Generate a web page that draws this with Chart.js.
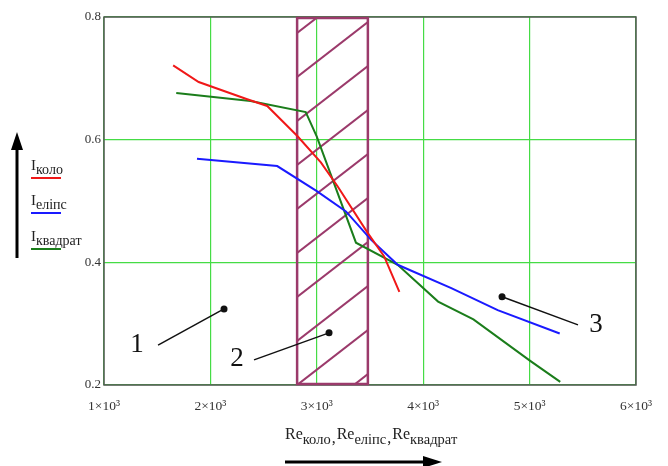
<!DOCTYPE html>
<html lang="uk">
<head>
<meta charset="UTF-8">
<title>I = f(Re)</title>
<script src="https://cdn.jsdelivr.net/npm/chart.js"></script>
<style>
  html, body { margin: 0; padding: 0; background: #fff; }
</style>
</head>
<body>
<canvas id="chart" width="668" height="466"></canvas>
<script>
// curves: коло (circle), еліпс (ellipse), квадрат (square)
const reKolo = [1650, 1890, 2346, 2534, 2817, 3038, 3195, 3478, 3632, 3776];
const iKolo = [0.721, 0.694, 0.666, 0.655, 0.606, 0.563, 0.524, 0.448, 0.41, 0.352];

const reElips = [1874, 2628, 3000, 3274, 3509, 3760, 4264, 4700, 5283];
const iElips = [0.569, 0.557, 0.516, 0.483, 0.437, 0.396, 0.358, 0.322, 0.284];

const reKvadrat = [1679, 2377, 2896, 3000, 3368, 3760, 4140, 4472, 5009, 5288];
const iKvadrat = [0.676, 0.663, 0.645, 0.605, 0.432, 0.396, 0.336, 0.307, 0.239, 0.205];

const xTickLabels = ['1×10³', '2×10³', '3×10³', '4×10³', '5×10³', '6×10³'];
const yTickLabels = ['0.2', '0.4', '0.6', '0.8'];

// hatched transition zone (Re range)
const zoneRe = [2815, 3480];

// numbered callouts: dot, start of leader line, number
const calloutText = ['1', '2', '3'];
const calloutDotRe = [2128, 3115, 4741];
const calloutDotI = [0.324, 0.285, 0.344];
const calloutLineRe = [1508, 2410, 5455];
const calloutLineI = [0.265, 0.241, 0.298];
const calloutTextRe = [1310, 2250, 5624];
const calloutTextI = [0.265, 0.242, 0.298];

const seriesNames = ['коло', 'еліпс', 'квадрат'];
const seriesColors = ['#f01818', '#1a1aff', '#1b7d1b'];

function toPoints(xs, ys) {
    return xs.map((x, i) => ({ x: x, y: ys[i] }));
}

const SERIF = '"Liberation Serif", "DejaVu Serif", serif';

// draw main text with a subscript, returns advance width
function drawSub(ctx, x, y, main, sub, mainSize, subSize, drop) {
    ctx.font = mainSize + 'px ' + SERIF;
    ctx.fillText(main, x, y);
    const w1 = ctx.measureText(main).width;
    ctx.font = subSize + 'px ' + SERIF;
    ctx.fillText(sub, x + w1, y + drop);
    return w1 + ctx.measureText(sub).width;
}

const zonePlugin = {
    id: 'zone',
    beforeDatasetsDraw(chart) {
        const ctx = chart.ctx;
        const area = chart.chartArea;
        const xs = chart.scales.x;
        const L = xs.getPixelForValue(zoneRe[0]);
        const R = xs.getPixelForValue(zoneRe[1]);
        ctx.save();
        // hatch
        ctx.beginPath();
        ctx.rect(L, area.top, R - L, area.bottom - area.top);
        ctx.clip();
        ctx.strokeStyle = '#9b3a6b';
        ctx.lineWidth = 2;
        const slope = 0.775, gap = 44;
        for (let k = -2; k < 14; k++) {
            const yL = area.bottom - k * gap;
            ctx.beginPath();
            ctx.moveTo(L, yL);
            ctx.lineTo(R, yL - slope * (R - L));
            ctx.stroke();
        }
        ctx.restore();
        ctx.save();
        // plot frame
        ctx.strokeStyle = '#555';
        ctx.lineWidth = 1.5;
        ctx.strokeRect(area.left, area.top, area.right - area.left, area.bottom - area.top);
        ctx.strokeStyle = '#9b3a6b';
        ctx.lineWidth = 2.5;
        ctx.strokeRect(L, area.top + 1, R - L, area.bottom - area.top - 2);
        ctx.restore();
    }
};

const decorPlugin = {
    id: 'decor',
    afterDraw(chart) {
        const ctx = chart.ctx;
        const xs = chart.scales.x, ys = chart.scales.y;
        ctx.save();

        // callouts
        ctx.strokeStyle = '#111';
        ctx.fillStyle = '#111';
        ctx.lineWidth = 1.5;
        calloutText.forEach((t, i) => {
            const dx = xs.getPixelForValue(calloutDotRe[i]);
            const dy = ys.getPixelForValue(calloutDotI[i]);
            ctx.beginPath();
            ctx.moveTo(xs.getPixelForValue(calloutLineRe[i]), ys.getPixelForValue(calloutLineI[i]));
            ctx.lineTo(dx, dy);
            ctx.stroke();
            ctx.beginPath();
            ctx.arc(dx, dy, 3.5, 0, Math.PI * 2);
            ctx.fill();
            ctx.font = '27px ' + SERIF;
            ctx.textAlign = 'center';
            ctx.textBaseline = 'middle';
            ctx.fillText(t, xs.getPixelForValue(calloutTextRe[i]), ys.getPixelForValue(calloutTextI[i]));
        });

        // vertical arrow on the left
        ctx.strokeStyle = '#000';
        ctx.fillStyle = '#000';
        ctx.lineWidth = 3;
        ctx.beginPath();
        ctx.moveTo(17, 258);
        ctx.lineTo(17, 146);
        ctx.stroke();
        ctx.beginPath();
        ctx.moveTo(17, 132);
        ctx.lineTo(11, 150);
        ctx.lineTo(23, 150);
        ctx.closePath();
        ctx.fill();

        // horizontal arrow under the axis title
        ctx.beginPath();
        ctx.moveTo(285, 462);
        ctx.lineTo(426, 462);
        ctx.stroke();
        ctx.beginPath();
        ctx.moveTo(442, 462);
        ctx.lineTo(423, 456);
        ctx.lineTo(423, 468);
        ctx.closePath();
        ctx.fill();

        // legend
        ctx.textAlign = 'left';
        ctx.textBaseline = 'alphabetic';
        const legendY = [170, 205, 241];
        seriesNames.forEach((name, i) => {
            ctx.fillStyle = '#222';
            drawSub(ctx, 31, legendY[i], 'I', name, 15, 14, 4);
            ctx.strokeStyle = seriesColors[i];
            ctx.lineWidth = 2;
            ctx.beginPath();
            ctx.moveTo(31, legendY[i] + 8);
            ctx.lineTo(61, legendY[i] + 8);
            ctx.stroke();
        });

        // x axis title
        ctx.fillStyle = '#222';
        let x = 285;
        seriesNames.forEach((name, i) => {
            x += drawSub(ctx, x, 439, 'Re', name, 16, 14.5, 5);
            if (i < seriesNames.length - 1) {
                ctx.font = '16px ' + SERIF;
                ctx.fillText(',', x + 1, 443);
                x += ctx.measureText(',').width + 2;
            }
        });
        ctx.restore();
    }
};

const gridColor = '#45dc45';

new Chart(document.getElementById('chart'), {
    type: 'line',
    data: {
        datasets: [
            { label: 'Iколо', data: toPoints(reKolo, iKolo), borderColor: seriesColors[0] },
            { label: 'Iеліпс', data: toPoints(reElips, iElips), borderColor: seriesColors[1] },
            { label: 'Iквадрат', data: toPoints(reKvadrat, iKvadrat), borderColor: seriesColors[2] }
        ]
    },
    options: {
        responsive: false,
        animation: false,
        layout: { padding: { top: 17, right: 32, left: 0, bottom: 0 } },
        elements: {
            line: { borderWidth: 2, tension: 0, fill: false },
            point: { radius: 0, hoverRadius: 0 }
        },
        plugins: { legend: { display: false }, tooltip: { enabled: false } },
        scales: {
            x: {
                type: 'linear',
                min: 1000,
                max: 6000,
                ticks: {
                    stepSize: 1000,
                    padding: 13,
                    maxRotation: 0,
                    color: '#333',
                    font: { family: SERIF, size: 13.5 },
                    callback: (v, i) => xTickLabels[i]
                },
                grid: { color: gridColor, lineWidth: 1.2, drawTicks: false },
                border: { display: false },
                afterFit(scale) { scale.height = 81; }
            },
            y: {
                min: 0.2,
                max: 0.8,
                ticks: {
                    stepSize: 0.2,
                    padding: 3,
                    color: '#333',
                    font: { family: SERIF, size: 13 },
                    callback: (v, i) => yTickLabels[i]
                },
                grid: { color: gridColor, lineWidth: 1.2, drawTicks: false },
                border: { display: false },
                afterFit(scale) { scale.width = 104; }
            }
        }
    },
    plugins: [zonePlugin, decorPlugin]
});
</script>
</body>
</html>
